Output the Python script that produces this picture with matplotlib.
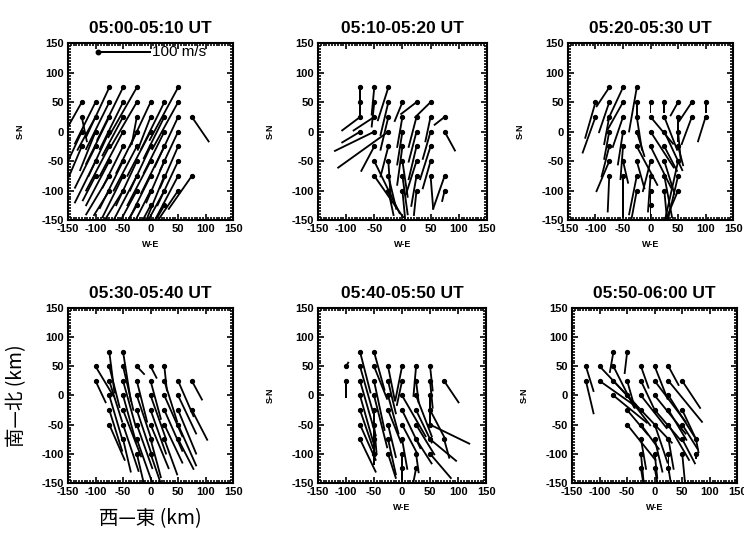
import numpy as np
import matplotlib
matplotlib.use("Agg")
import matplotlib.pyplot as plt
from matplotlib.ticker import MultipleLocator

plt.rcParams['font.family'] = ['Liberation Sans', 'DejaVu Sans']
plt.rcParams['axes.unicode_minus'] = False

titles = ["05:00-05:10 UT", "05:10-05:20 UT", "05:20-05:30 UT",
          "05:30-05:40 UT", "05:40-05:50 UT", "05:50-06:00 UT"]
tick_values = [-150, -100, -50, 0, 50, 100, 150]

# (x km, y km, u m/s, v m/s) per time window
vec_0500 = [
    (-75, 75, -45, -90), (-50, 75, -50, -95), (-25, 75, -55, -90), (50, 75, -55, -95),
    (-125, 50, -30, -50), (-100, 50, -40, -75), (-75, 50, -45, -85), (-50, 50, -45, -85),
    (-25, 50, -50, -80), (0, 50, -40, -80), (25, 50, -45, -85), (50, 50, -50, -85),
    (-125, 25, 10, -45), (-100, 25, -35, -60), (-75, 25, -45, -85), (-50, 25, -40, -70),
    (-25, 25, -10, -50), (0, 25, -25, -60), (25, 25, -40, -75), (50, 25, -45, -90), (75, 25, 33, -45),
    (-125, 0, -25, -50), (-100, 0, -30, -70), (-75, 0, -40, -80), (-50, 0, -45, -80),
    (-25, 0, -40, -75), (0, 0, -45, -80), (25, 0, -40, -75), (50, 0, -35, -70),
    (-125, -25, -25, -55), (-100, -25, -40, -75), (-75, -25, -45, -80), (-50, -25, -40, -75),
    (-25, -25, -45, -80), (0, -25, -40, -80), (25, -25, -45, -85), (50, -25, -35, -75),
    (-100, -50, -40, -75), (-75, -50, -45, -80), (-50, -50, -45, -85), (-25, -50, -40, -80),
    (0, -50, -45, -80), (25, -50, -35, -75), (50, -50, -40, -80),
    (-100, -75, -25, -45), (-75, -75, -45, -70), (-50, -75, -40, -75), (-25, -75, -45, -80),
    (0, -75, -40, -75), (25, -75, -35, -80), (50, -75, -45, -80), (75, -75, -45, -60),
    (-75, -100, -30, -45), (-50, -100, -40, -60), (-25, -100, -35, -60), (0, -100, -30, -55),
    (25, -100, -35, -60), (50, -100, -40, -55),
    (-25, -125, -25, -40), (0, -125, -20, -35), (25, -125, -25, -40),
]
vec_0510 = [
    (-75, 75, 0, -55), (-50, 75, -5, -50), (-25, 75, -20, -60),
    (-75, 50, 0, -30), (-50, 50, -5, -45), (-25, 50, -15, -60), (0, 50, -15, -35),
    (25, 50, -30, -22), (50, 50, -30, -28),
    (-75, 25, -35, -25), (-50, 25, -40, -25), (-25, 25, -15, -60), (0, 25, -10, -55),
    (25, 25, -15, -55), (50, 25, -10, -45), (75, 25, -20, -15),
    (-75, 0, -35, -20), (-50, 0, -75, -35), (-25, 0, -95, -65), (0, 0, -10, -60),
    (25, 0, -15, -55), (50, 0, -15, -50), (75, 0, 20, -35),
    (-50, -25, -25, -45), (-25, -25, -15, -55), (0, -25, -10, -70), (25, -25, -15, -60), (50, -25, -20, -60),
    (-50, -50, 48, -94), (-25, -50, 5, -75), (0, -50, 10, -65), (25, -50, -20, -60), (50, -50, -15, -50),
    (-50, -75, 55, -75), (-25, -75, 15, -60), (0, -75, 10, -70), (25, -75, -10, -55),
    (50, -75, 5, -60), (75, -75, -22, -60),
    (-25, -100, 10, -45), (0, -100, 5, -50), (25, -100, -5, -45), (75, -100, -5, -20),
]
vec_0520 = [
    (-75, 75, -25, -35), (-50, 75, -30, -60), (-25, 75, -15, -80),
    (-100, 50, -20, -65), (-75, 50, -20, -55), (-50, 50, -30, -50), (-25, 50, 0, -25),
    (0, 50, 0, -20), (25, 50, 0, -20), (50, 50, -15, -25), (75, 50, -25, -35), (100, 50, 0, -20),
    (-100, 25, -25, -65), (-75, 25, -10, -50), (-50, 25, -20, -55), (-25, 25, 10, -60),
    (0, 25, 44, -49), (25, 25, 25, -60), (50, 25, 0, -45), (75, 25, -20, -50), (100, 25, -15, -45),
    (-75, 0, -10, -50), (-50, 0, -10, -60), (-25, 0, 15, -45), (0, 0, 45, -65),
    (25, 0, 35, -70), (50, 0, 5, -50),
    (-75, -25, -15, -55), (-50, -25, -5, -60), (-25, -25, 40, -70), (0, -25, 40, -75),
    (25, -25, 25, -45), (50, -25, 10, -35),
    (-75, -50, -25, -55), (-50, -50, 10, -40), (-25, -50, 15, -50), (0, -50, -15, -55),
    (25, -50, 20, -60), (50, -50, -25, -105),
    (-75, -75, -3, -65), (-50, -75, 0, -75), (-25, -75, -15, -70), (0, -75, -5, -65),
    (25, -75, 15, -75), (50, -75, -20, -80),
    (-25, -100, -10, -50), (0, -100, 0, -50), (25, -100, 5, -50), (50, -100, -25, -55),
    (0, -125, 0, -25),
]
vec_0530 = [
    (-75, 75, 10, -75), (-50, 75, 15, -90),
    (-100, 50, 35, -55), (-75, 50, 20, -75), (-50, 50, 20, -80), (-25, 50, 15, -15),
    (0, 50, 12, -22), (25, 50, 5, -45),
    (-100, 25, 20, -40), (-75, 25, 25, -75), (-50, 25, 25, -85), (-25, 25, 20, -75),
    (0, 25, 20, -70), (25, 25, 25, -75), (50, 25, 30, -65), (75, 25, 20, -35),
    (-75, 0, 25, -80), (-50, 0, 25, -85), (-25, 0, 30, -85), (0, 0, 30, -80),
    (25, 0, 35, -75), (50, 0, 35, -70),
    (-75, -25, 25, -75), (-50, -25, 35, -85), (-25, -25, 30, -85), (0, -25, 30, -80),
    (25, -25, 35, -75), (50, -25, 35, -80), (75, -25, 30, -55),
    (-75, -50, 30, -65), (-50, -50, 30, -85), (-25, -50, 30, -80), (0, -50, 35, -80),
    (25, -50, 35, -70), (50, -50, 35, -75),
    (-50, -75, 15, -60), (-25, -75, 30, -80), (0, -75, 20, -70), (25, -75, 25, -65), (50, -75, 30, -55),
    (-25, -100, 15, -60), (0, -100, 20, -55),
]
vec_0540 = [
    (-100, 50, 5, 8), (-100, 25, 0, -30),
    (-75, 75, 20, -75), (-50, 75, 20, -70),
    (-75, 50, 25, -85), (-50, 50, 25, -60), (-25, 50, 13, -63), (0, 50, -13, -63),
    (25, 50, -5, -55), (50, 50, 5, -45),
    (-75, 25, 30, -100), (-50, 25, 20, -90), (-25, 25, 15, -60), (0, 25, -10, -45),
    (25, 25, 5, -40), (50, 25, 5, -50), (75, 25, 28, -40),
    (-75, 0, 25, -85), (-50, 0, 25, -95), (-25, 0, 20, -70), (0, 0, 45, -75),
    (25, 0, 30, -75), (50, 0, 0, -55),
    (-75, -25, 25, -70), (-50, -25, 0, -75), (-25, -25, 25, -60), (0, -25, 35, -70),
    (25, -25, 30, -60), (50, -25, 30, -55),
    (-75, -50, 30, -65), (-50, -50, 5, -55), (-25, -50, 15, -60), (0, -50, 30, -55),
    (25, -50, 35, -55), (50, -50, 75, -35),
    (-75, -75, 30, -60), (-50, -75, 0, -35), (-25, -75, 15, -65), (0, -75, 10, -55),
    (25, -75, 30, -45), (50, -75, 50, -40), (75, -75, 10, -35),
    (-50, -100, 0, -20), (-25, -100, 15, -45), (0, -100, 0, -50), (25, -100, 5, -35), (50, -100, 40, -45),
    (0, -125, 0, -25), (25, -125, -5, -25),
]
vec_0550 = [
    (-75, 75, -7, -38), (-50, 75, -5, -40),
    (-125, 50, 15, -46), (-100, 50, 70, -70), (-75, 50, 40, -75), (-25, 50, 15, -40),
    (0, 50, 25, -60), (25, 50, 20, -35),
    (-125, 25, 15, -60), (-100, 25, 75, -50), (-75, 25, 50, -50), (-50, 25, 15, -50),
    (-25, 25, 25, -50), (0, 25, 60, -75), (25, 25, 65, -75), (50, 25, 35, -50),
    (-75, 0, 65, -50), (-50, 0, 45, -55), (-25, 0, 50, -60), (0, 0, 60, -70), (25, 0, 50, -75),
    (-50, -25, 40, -45), (-25, -25, 60, -60), (0, -25, 50, -55), (25, -25, 35, -55), (50, -25, 25, -50),
    (-50, -50, 55, -65), (-25, -50, 35, -45), (0, -50, 25, -70), (25, -50, 40, -65), (50, -50, 30, -45),
    (-25, -75, 10, -55), (0, -75, 15, -60), (25, -75, 10, -55), (50, -75, 25, -45), (75, -75, 5, -25),
    (-25, -100, 5, -50), (0, -100, 5, -45), (25, -100, 0, -35), (50, -100, 5, -50), (75, -100, 0, -10),
    (-25, -125, 5, -30), (0, -125, 5, -25), (25, -125, 5, -30),
]
all_vectors = [vec_0500, vec_0510, vec_0520, vec_0530, vec_0540, vec_0550]

ms_per_km = 1.05  # 100 m/s drawn as ~95 km

fig = plt.figure(figsize=(7.44, 5.33), dpi=100)
positions = [
    [0.0914, 0.587, 0.222, 0.332], [0.4274, 0.587, 0.227, 0.332], [0.7634, 0.587, 0.222, 0.332],
    [0.0914, 0.094, 0.222, 0.328], [0.4274, 0.094, 0.226, 0.328], [0.769, 0.094, 0.222, 0.328],
]

for i, (pos, title, vecs) in enumerate(zip(positions, titles, all_vectors)):
    ax = fig.add_axes(pos)
    arr = np.array(vecs, dtype=float)
    x, y, u, v = arr[:, 0], arr[:, 1], arr[:, 2], arr[:, 3]
    ax.quiver(x, y, u, v, angles='xy', scale_units='xy', scale=ms_per_km,
              headwidth=0, headlength=0, headaxislength=0, width=0.011, color='black')
    ax.plot(x, y, 'o', color='black', ms=2.8)

    ax.set_xlim(-150, 150)
    ax.set_ylim(-150, 150)
    ax.set_xticks(tick_values)
    ax.set_yticks(tick_values)
    ax.xaxis.set_minor_locator(MultipleLocator(5))
    ax.yaxis.set_minor_locator(MultipleLocator(5))
    ax.tick_params(which='both', direction='in', top=True, right=True, width=1.2)
    ax.tick_params(which='major', length=4.5, labelsize=8, pad=3)
    ax.tick_params(which='minor', length=2.5)
    for lab in ax.get_xticklabels() + ax.get_yticklabels():
        lab.set_fontweight('bold')
    for sp in ax.spines.values():
        sp.set_linewidth(1.5)

    ax.set_title(title, fontsize=12.5, fontweight='bold', pad=7)

    if i == 3:
        ax.set_ylabel("南—北 (km)", fontsize=14, labelpad=10,
                      family=['Noto Sans CJK JP', 'DejaVu Sans'])
        ax.set_xlabel("西—東 (km)", fontsize=14, labelpad=8,
                      family=['Noto Sans CJK JP', 'DejaVu Sans'])
    else:
        ax.set_ylabel("S-N", fontsize=6.5, fontweight='bold', labelpad=12)
        ax.set_xlabel("W-E", fontsize=6.5, fontweight='bold', labelpad=4)

    if i == 0:
        # 100 m/s reference arrow
        ax.quiver([-95], [135], [100], [0], angles='xy', scale_units='xy', scale=ms_per_km,
                  headwidth=0, headlength=0, headaxislength=0, width=0.014, color='black')
        ax.plot([-95], [135], 'o', color='black', ms=3.2)
        ax.text(2, 135, "100 m/s", fontsize=11, va='center', ha='left')

fig.savefig("out.png", dpi=100)
